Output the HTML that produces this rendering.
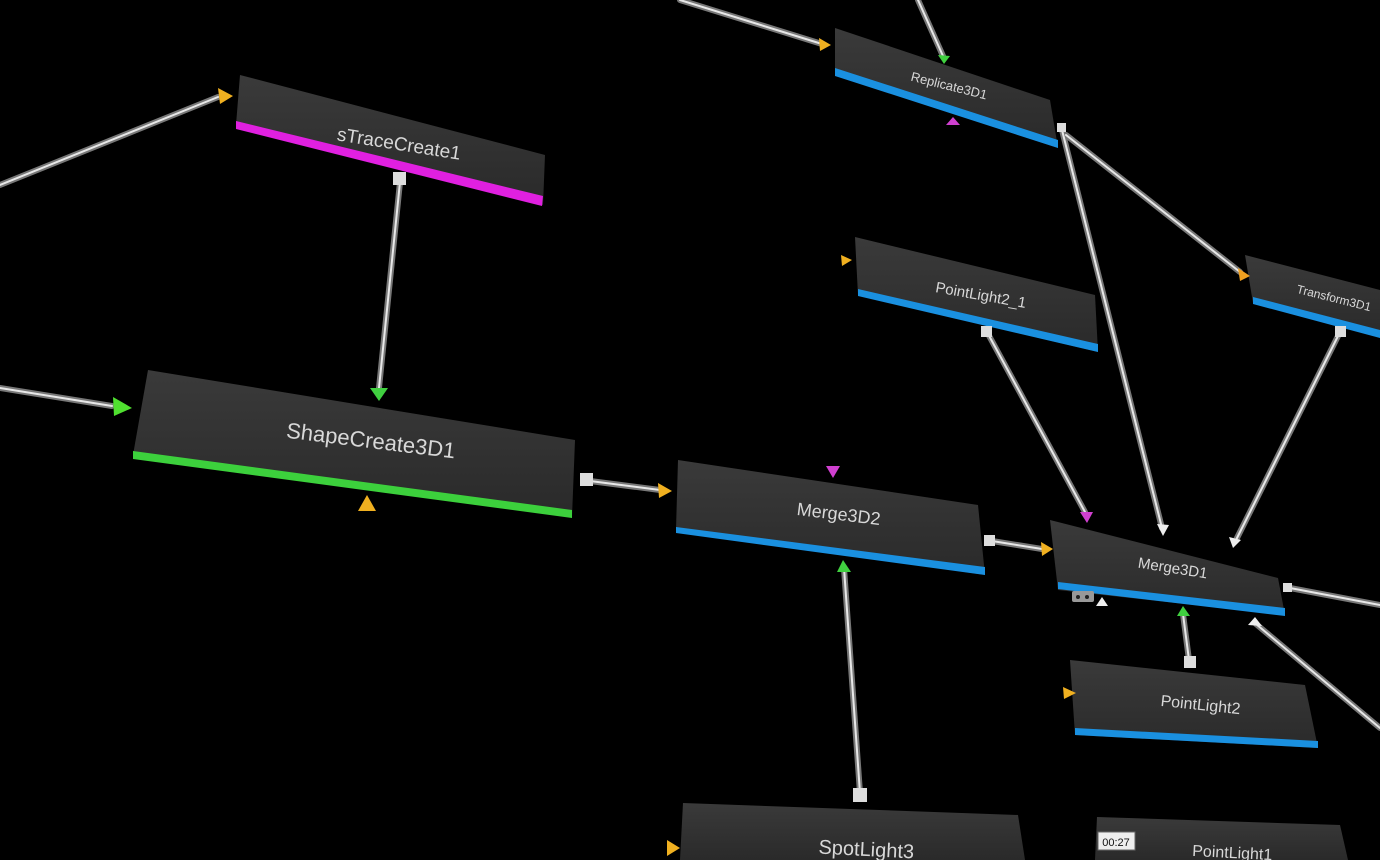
<!DOCTYPE html>
<html><head><meta charset="utf-8"><style>
html,body{margin:0;padding:0;background:#000;width:1380px;height:860px;overflow:hidden}
svg{display:block}
text{font-family:"Liberation Sans",sans-serif;fill:#d8d8d8}
</style></head><body>
<svg width="1380" height="860" viewBox="0 0 1380 860">
<defs>
<linearGradient id="ng" x1="0" y1="0" x2="0" y2="1"><stop offset="0" stop-color="#3a3a3a"/><stop offset="1" stop-color="#2a2a2a"/></linearGradient>
<g id="w"></g>
</defs>
<g stroke-linecap="round">
<g stroke="#777" stroke-width="6">
<line x1="0" y1="185" x2="218" y2="97"/>
<line x1="400" y1="182" x2="379" y2="388"/>
<line x1="0" y1="388" x2="112" y2="406"/>
<line x1="590" y1="481" x2="660" y2="490"/>
<line x1="992" y1="541" x2="1042" y2="549"/>
<line x1="987" y1="332" x2="1085" y2="512"/>
<line x1="1062" y1="130" x2="1162" y2="528"/>
<line x1="1066" y1="135" x2="1240" y2="272"/>
<line x1="1340" y1="332" x2="1236" y2="540"/>
<line x1="1189" y1="660" x2="1183" y2="614"/>
<line x1="860" y1="793" x2="844" y2="568"/>
<line x1="680" y1="0" x2="822" y2="44"/>
<line x1="918" y1="0" x2="943" y2="56"/>
<line x1="1290" y1="588" x2="1380" y2="605"/>
<line x1="1256" y1="624" x2="1380" y2="728"/>
</g>
<g stroke="#e8e8e8" stroke-width="2">
<line x1="0" y1="185" x2="218" y2="97"/>
<line x1="400" y1="182" x2="379" y2="388"/>
<line x1="0" y1="388" x2="112" y2="406"/>
<line x1="590" y1="481" x2="660" y2="490"/>
<line x1="992" y1="541" x2="1042" y2="549"/>
<line x1="987" y1="332" x2="1085" y2="512"/>
<line x1="1062" y1="130" x2="1162" y2="528"/>
<line x1="1066" y1="135" x2="1240" y2="272"/>
<line x1="1340" y1="332" x2="1236" y2="540"/>
<line x1="1189" y1="660" x2="1183" y2="614"/>
<line x1="860" y1="793" x2="844" y2="568"/>
<line x1="680" y1="0" x2="822" y2="44"/>
<line x1="918" y1="0" x2="943" y2="56"/>
<line x1="1290" y1="588" x2="1380" y2="605"/>
<line x1="1256" y1="624" x2="1380" y2="728"/>
</g>
</g>
<!-- nodes -->
<polygon points="240,75 545,155 543,205 236,125" fill="url(#ng)"/>
<polygon points="236,121 543,196 542,206 236,129" fill="#e020e0"/>
<text x="398" y="150" font-size="19" text-anchor="middle" transform="rotate(9 398 150)">sTraceCreate1</text>

<polygon points="148,370 575,440 572,517 133,455" fill="url(#ng)"/>
<polygon points="133,451 572,510 572,518 133,459" fill="#3cd03c"/>
<text x="370" y="448" font-size="22" text-anchor="middle" transform="rotate(7 370 448)">ShapeCreate3D1</text>

<polygon points="678,460 978,505 985,575 676,530" fill="url(#ng)"/>
<polygon points="676,527 985,567 985,575 676,533" fill="#1a90e0"/>
<text x="838" y="520" font-size="18" text-anchor="middle" transform="rotate(7 838 520)">Merge3D2</text>

<polygon points="1050,520 1278,578 1285,615 1058,590" fill="url(#ng)"/>
<polygon points="1058,582 1285,608 1285,616 1058,589" fill="#1a90e0"/>
<text x="1172" y="573" font-size="15" text-anchor="middle" transform="rotate(9 1172 573)">Merge3D1</text>

<polygon points="855,237 1095,295 1098,352 858,295" fill="url(#ng)"/>
<polygon points="858,289 1098,344 1098,352 858,296" fill="#1a90e0"/>
<text x="980" y="300" font-size="15" text-anchor="middle" transform="rotate(10 980 300)">PointLight2_1</text>

<polygon points="835,28 1050,100 1058,148 835,75" fill="url(#ng)"/>
<polygon points="835,68 1058,140 1058,148 835,76" fill="#1a90e0"/>
<text x="948" y="90" font-size="13" text-anchor="middle" transform="rotate(14 948 90)">Replicate3D1</text>

<polygon points="1245,255 1380,290 1380,337 1253,303" fill="url(#ng)"/>
<polygon points="1253,297 1380,330 1380,338 1253,304" fill="#1a90e0"/>
<text x="1333" y="302" font-size="12" text-anchor="middle" transform="rotate(14 1333 302)">Transform3D1</text>

<polygon points="1070,660 1305,685 1318,748 1075,735" fill="url(#ng)"/>
<polygon points="1075,728 1318,741 1318,748 1075,735" fill="#1a90e0"/>
<text x="1200" y="710" font-size="16" text-anchor="middle" transform="rotate(6 1200 710)">PointLight2</text>

<polygon points="683,803 1018,815 1025,860 680,860" fill="url(#ng)"/>
<text x="866" y="856" font-size="20" text-anchor="middle" transform="rotate(3 866 856)">SpotLight3</text>

<polygon points="1097,817 1340,825 1348,860 1095,860" fill="url(#ng)"/>
<text x="1232" y="858" font-size="16" text-anchor="middle" transform="rotate(3 1232 858)">PointLight1</text>

<!-- arrows/ports -->
<polygon points="218,88 233,96 220,104" fill="#f0b020"/>
<polygon points="370,388 388,388 379,401" fill="#40d040"/>
<polygon points="113,397 132,408 114,416" fill="#50e030"/>
<polygon points="658,483 672,491 659,498" fill="#f0b020"/>
<polygon points="1041,542 1053,549 1042,556" fill="#f0b020"/>
<polygon points="1080,512 1093,512 1087,523" fill="#d040d0"/>
<polygon points="1157,524 1169,525 1163,536" fill="#eee"/>
<polygon points="1238,268 1250,276 1240,281" fill="#f0a020"/>
<polygon points="1229,537 1241,540 1233,548" fill="#eee"/>
<polygon points="1177,616 1190,616 1183,606" fill="#40d040"/>
<polygon points="837,572 851,572 843,560" fill="#40d040"/>
<polygon points="819,38 831,45 820,51" fill="#f0b020"/>
<polygon points="938,55 950,56 944,64" fill="#40d040"/>
<polygon points="358,511 376,511 367,495" fill="#f0b020"/>
<polygon points="826,466 840,466 833,478" fill="#d040d0"/>
<polygon points="946,125 960,125 953,117" fill="#d040d0"/>
<polygon points="841,255 852,260 842,266" fill="#f0b020"/>
<polygon points="1063,687 1076,693 1064,699" fill="#f0b020"/>
<polygon points="667,840 680,848 667,856" fill="#f0b020"/>
<polygon points="1248,625 1262,626 1255,617" fill="#eee"/>
<polygon points="1096,606 1108,606 1102,597" fill="#eee"/>
<rect x="393" y="172" width="13" height="13" fill="#ddd"/>
<rect x="580" y="473" width="13" height="13" fill="#ddd"/>
<rect x="984" y="535" width="11" height="11" fill="#ddd"/>
<rect x="981" y="326" width="11" height="11" fill="#ddd"/>
<rect x="1057" y="123" width="9" height="9" fill="#ddd"/>
<rect x="1335" y="326" width="11" height="11" fill="#ddd"/>
<rect x="1184" y="656" width="12" height="12" fill="#ddd"/>
<rect x="853" y="788" width="14" height="14" fill="#ddd"/>
<rect x="1283" y="583" width="9" height="9" fill="#ddd"/>
<rect x="1072" y="591" width="22" height="11" rx="2" fill="#999"/>
<circle cx="1078" cy="597" r="2" fill="#222"/><circle cx="1087" cy="597" r="2" fill="#222"/>
<rect x="1098" y="832" width="37" height="18" fill="#eee" stroke="#666"/>
<text x="1116" y="846" font-size="11" text-anchor="middle" style="fill:#111">00:27</text>
</svg>
</body></html>
